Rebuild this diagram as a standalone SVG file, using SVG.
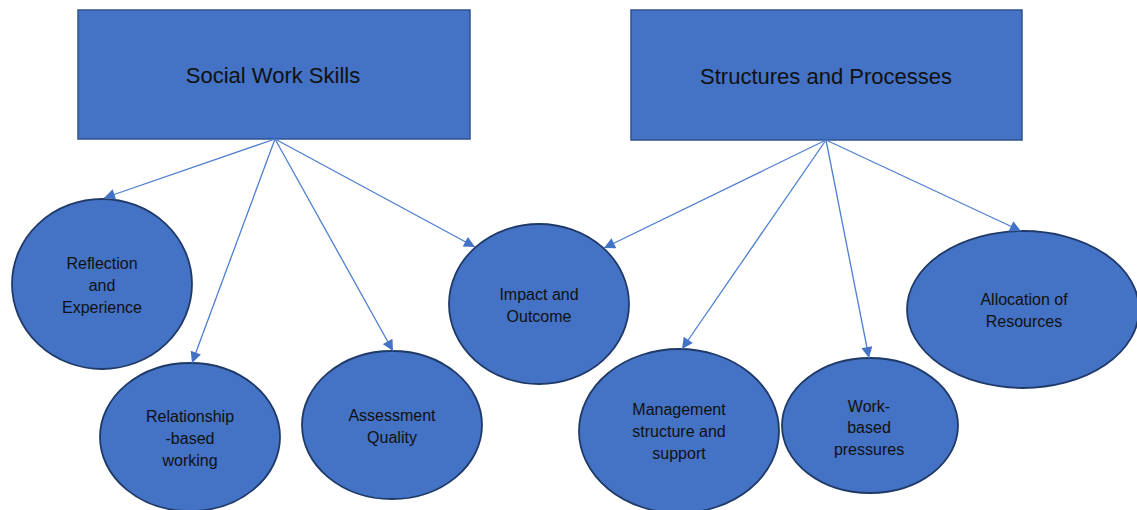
<svg xmlns="http://www.w3.org/2000/svg" width="1137" height="510" viewBox="0 0 1137 510">
<style>
.box{fill:#4472C4;stroke:#2F528F;stroke-width:1.5}
.node{fill:#4472C4;stroke:#1F3A68;stroke-width:1.8}
.title{font-family:"Liberation Sans",Arial,sans-serif;font-size:22px;fill:#111;text-anchor:middle}
.lbl{font-family:"Liberation Sans",Arial,sans-serif;font-size:16px;fill:#111;text-anchor:middle}
.edge{stroke:#4F7FD0;stroke-width:1.3;fill:none;marker-end:url(#ah)}
</style>
<defs>
<marker id="ah" markerUnits="userSpaceOnUse" viewBox="0 0 10 10" refX="10" refY="5" markerWidth="13" markerHeight="11" orient="auto">
<path d="M0,0 L10,5 L0,10 z" fill="#4472C4"/>
</marker>
</defs>
<rect width="1137" height="510" fill="#fff"/>
<g id="social-work-skills">
<rect class="box" x="78" y="10" width="392" height="129"/>
<text class="title" x="273" y="83">Social Work Skills</text>
</g>
<g id="structures-processes">
<rect class="box" x="631" y="10" width="391" height="130"/>
<text class="title" x="826" y="84">Structures and Processes</text>
</g>
<g id="reflection">
<ellipse class="node" cx="102" cy="284" rx="90" ry="85"/>
<text class="lbl" x="102" y="269">Reflection</text>
<text class="lbl" x="102" y="291">and</text>
<text class="lbl" x="102" y="313">Experience</text>
</g>
<g id="relationship">
<ellipse class="node" cx="190" cy="437" rx="90" ry="74"/>
<text class="lbl" x="190" y="422">Relationship</text>
<text class="lbl" x="190" y="444">-based</text>
<text class="lbl" x="190" y="466">working</text>
</g>
<g id="assessment">
<ellipse class="node" cx="392" cy="425" rx="90" ry="74"/>
<text class="lbl" x="392" y="421">Assessment</text>
<text class="lbl" x="392" y="443">Quality</text>
</g>
<g id="impact">
<ellipse class="node" cx="539" cy="304" rx="90" ry="80"/>
<text class="lbl" x="539" y="300">Impact and</text>
<text class="lbl" x="539" y="322">Outcome</text>
</g>
<g id="management">
<ellipse class="node" cx="679" cy="431" rx="100" ry="82"/>
<text class="lbl" x="679" y="415">Management</text>
<text class="lbl" x="679" y="437">structure and</text>
<text class="lbl" x="679" y="459">support</text>
</g>
<g id="work-based">
<ellipse class="node" cx="870" cy="425.5" rx="88" ry="67.5"/>
<text class="lbl" x="869" y="412">Work-</text>
<text class="lbl" x="869" y="433">based</text>
<text class="lbl" x="869" y="455">pressures</text>
</g>
<g id="allocation">
<ellipse class="node" cx="1023" cy="309.5" rx="116" ry="78.5"/>
<text class="lbl" x="1024" y="305">Allocation of</text>
<text class="lbl" x="1024" y="327">Resources</text>
</g>
<g id="connectors">
<line class="edge" x1="275" y1="139" x2="104" y2="198"/>
<line class="edge" x1="275" y1="139" x2="192" y2="363"/>
<line class="edge" x1="275" y1="139" x2="393" y2="351"/>
<line class="edge" x1="275" y1="139" x2="475" y2="247"/>
<line class="edge" x1="826" y1="140" x2="604" y2="248"/>
<line class="edge" x1="826" y1="140" x2="682" y2="349"/>
<line class="edge" x1="826" y1="140" x2="869" y2="358"/>
<line class="edge" x1="826" y1="140" x2="1021" y2="231"/>
</g>
</svg>
